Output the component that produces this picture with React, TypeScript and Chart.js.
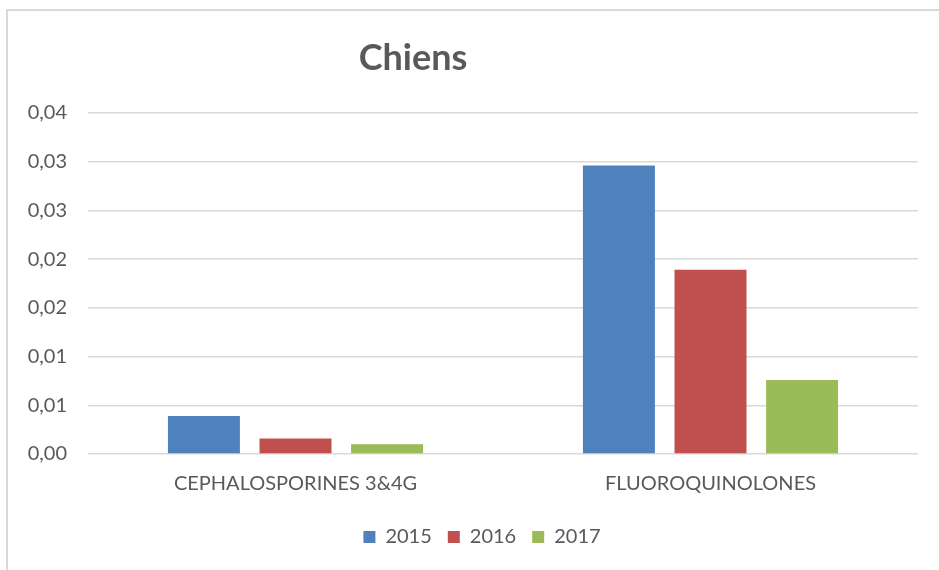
import React, { useEffect, useRef } from "react";
import { Chart, registerables } from "chart.js";

Chart.register(...registerables);

const chartTitle = "Chiens";
const categories = ["CEPHALOSPORINES 3&4G", "FLUOROQUINOLONES"];
const seriesNames = ["2015", "2016", "2017"];
const values2015 = [0.0039, 0.0296];
const values2016 = [0.0016, 0.0189];
const values2017 = [0.001, 0.0076];
const yTickLabels = ["0,00", "0,01", "0,01", "0,02", "0,02", "0,03", "0,03", "0,04"];
const yMax = 0.035;
const yStep = 0.005;

const colors = ["#4f81bd", "#c0504d", "#9bbb59"];
const textColor = "#595959";
const gridColor = "#d9d9d9";
const FONT = "Lato, 'Open Sans', sans-serif";

const framePlugin = {
  id: "frameAndTitle",
  afterLayout(chart: any) {
    if (chart.legend) {
      chart.legend.left += 23;
      chart.legend.right += 23;
    }
  },
  beforeDraw(chart: any) {
    const ctx = chart.ctx;
    ctx.save();
    ctx.fillStyle = "#ffffff";
    ctx.fillRect(0, 0, chart.width, chart.height);
    ctx.fillStyle = gridColor;
    ctx.fillRect(6, 9, 2, chart.height - 9);
    ctx.fillRect(6, 9, chart.width - 6, 2);
    ctx.restore();
  },
  afterDraw(chart: any) {
    const ctx = chart.ctx;
    ctx.save();
    ctx.fillStyle = textColor;
    ctx.font = `bold 36px ${FONT}`;
    ctx.textAlign = "center";
    ctx.textBaseline = "alphabetic";
    ctx.fillText(chartTitle, 413, 70);
    ctx.restore();
  },
};

export default function App() {
  const ref = useRef<HTMLCanvasElement | null>(null);

  useEffect(() => {
    if (!ref.current) return;
    const seriesValues = [values2015, values2016, values2017];
    const chart = new Chart(ref.current, {
      type: "bar",
      data: {
        labels: categories,
        datasets: seriesNames.map((name, i) => ({
          label: name,
          data: seriesValues[i],
          backgroundColor: colors[i],
          borderWidth: 0,
          categoryPercentage: 0.662,
          barPercentage: 0.786,
        })),
      },
      options: {
        animation: false,
        responsive: false,
        maintainAspectRatio: false,
        layout: { padding: { left: 0, right: 21, top: 113, bottom: 13 } },
        plugins: {
          title: { display: false },
          tooltip: { enabled: false },
          legend: {
            display: true,
            position: "bottom",
            labels: {
              color: textColor,
              font: { family: FONT, size: 20 },
              boxWidth: 12,
              boxHeight: 12,
              padding: 16,
            },
          },
        },
        scales: {
          x: {
            grid: { display: false, drawTicks: false },
            border: { display: false },
            ticks: {
              color: textColor,
              font: { family: FONT, size: 20 },
              padding: 18,
              maxRotation: 0,
              autoSkip: false,
            },
            afterFit(scale: any) {
              scale.height = 57;
            },
          },
          y: {
            min: 0,
            max: yMax,
            grid: { color: gridColor, lineWidth: 1.5, drawTicks: false },
            border: { display: false },
            ticks: {
              stepSize: yStep,
              color: textColor,
              font: { family: FONT, size: 20 },
              padding: 21,
              callback: (_v: any, index: number) => yTickLabels[index],
            },
            afterFit(scale: any) {
              scale.width = 88;
            },
          },
        },
      },
      plugins: [framePlugin],
    });
    return () => chart.destroy();
  }, []);

  return (
    <div style={{ position: "fixed", left: 0, top: 0, width: 939, height: 570, background: "#fff" }}>
      <canvas ref={ref} width={939} height={570} />
    </div>
  );
}
